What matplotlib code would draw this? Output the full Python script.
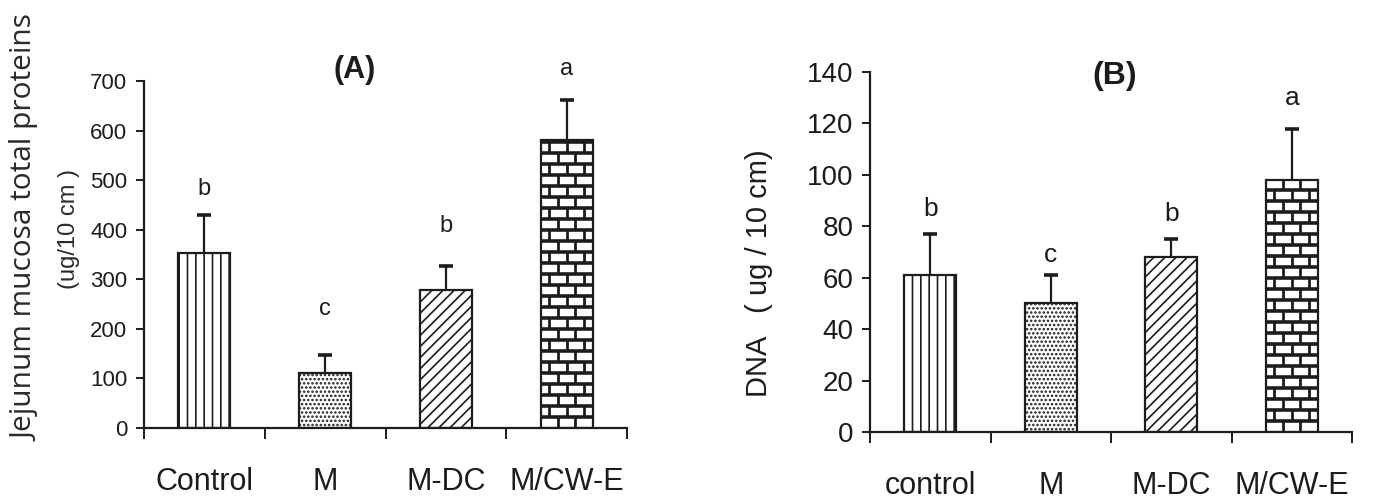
import matplotlib
matplotlib.use("Agg")
import matplotlib.pyplot as plt
import numpy as np

# Jejunum mucosa, two measures per group
groups_a = ["Control", "M", "M-DC", "M/CW-E"]
groups_b = ["control", "M", "M-DC", "M/CW-E"]

protein_mean = [353, 110, 278, 581]
protein_err = [77, 37, 49, 81]
protein_sig = ["b", "c", "b", "a"]
protein_sig_y = [470, 228, 395, 712]

dna_mean = [61, 50, 68, 98]
dna_err = [16, 11, 7, 20]
dna_sig = ["b", "c", "b", "a"]
dna_sig_y = [84, 66, 82, 127]

INK = "#1c1c1c"
HATCHES = ["||", "....", "///", "brick"]

plt.rcParams["font.family"] = ["Liberation Sans", "DejaVu Sans"]
plt.rcParams["hatch.color"] = INK
plt.rcParams["hatch.linewidth"] = 1.2
plt.rcParams["text.color"] = INK

W, H = 1391, 500
fig = plt.figure(figsize=(W / 100, H / 100), dpi=100)


def brick(ax, patch, row_px=11.0, ncols=3):
    # white bricks with dark mortar, staggered every other row
    x0, y0 = patch.get_x(), patch.get_y()
    w, h = patch.get_width(), patch.get_height()
    (_, p0), (_, p1) = ax.transData.transform([(0, 0), (0, 1)])
    row = row_px / (p1 - p0)
    ys = np.arange(y0, y0 + h + row, row)
    hl = ax.hlines(ys[1:-1], x0, x0 + w, colors=INK, lw=2.6, zorder=3)
    hl.set_clip_path(patch)
    bw = w / ncols
    xs, lo, hi = [], [], []
    for k in range(len(ys) - 1):
        off = 0.5 * bw if k % 2 else 0.0
        for j in range(ncols + 1):
            xv = x0 + off + j * bw
            if x0 < xv < x0 + w:
                xs.append(xv); lo.append(ys[k]); hi.append(ys[k + 1])
    vl = ax.vlines(xs, lo, hi, colors=INK, lw=2.0, zorder=3)
    vl.set_clip_path(patch)


def panel(rect, groups, mean, err, sig, sig_y, ymax, ystep, ytick_fs, sig_fs):
    ax = fig.add_axes(rect)
    x = np.arange(len(groups)) + 0.5
    ax.set_xlim(0, len(groups))
    ax.set_ylim(0, ymax)
    bars = ax.bar(x, mean, width=0.43, color="white", edgecolor=INK,
                  linewidth=1.6, zorder=2)
    for b, hatch in zip(bars, HATCHES):
        if hatch == "brick":
            brick(ax, b)
        else:
            b.set_hatch(hatch)
    # upper error bars only: stem from bar top plus a cap
    top = np.array(mean) + np.array(err)
    ax.vlines(x, mean, top, colors=INK, lw=1.6, zorder=4)
    ax.plot(x, top, ls="none", marker="_", ms=9.5, mew=2.6, color=INK,
            zorder=4)
    for xi, yi, s in zip(x, sig_y, sig):
        ax.text(xi, yi, s, ha="center", va="baseline", fontsize=sig_fs,
                clip_on=False)

    for side in ("top", "right"):
        ax.spines[side].set_visible(False)
    for side in ("left", "bottom"):
        ax.spines[side].set_linewidth(1.6)
        ax.spines[side].set_color(INK)

    ax.set_yticks(np.arange(0, ymax + 1, ystep))
    ax.tick_params(axis="y", length=6, width=1.4, color=INK, pad=6,
                   labelsize=ytick_fs, labelcolor=INK)
    ax.set_xticks(np.arange(len(groups) + 1))
    ax.set_xticklabels([])
    ax.tick_params(axis="x", which="major", length=8, width=1.4, color=INK)
    ax.set_xticks(x, minor=True)
    ax.set_xticklabels(groups, minor=True)
    ax.tick_params(axis="x", which="minor", length=0, pad=28,
                   labelsize=22, labelcolor=INK)
    return ax


panel([144 / W, 1 - 428 / H, 483 / W, 347 / H], groups_a, protein_mean,
      protein_err, protein_sig, protein_sig_y, 700, 100, 16, 17)
panel([870 / W, 1 - 432 / H, 482 / W, 360 / H], groups_b, dna_mean,
      dna_err, dna_sig, dna_sig_y, 140, 20, 20, 19)

fig.text(355 / W, 1 - 70 / H, "(A)", ha="center", va="center",
         fontsize=22, fontweight="bold")
fig.text(1115 / W, 1 - 76 / H, "(B)", ha="center", va="center",
         fontsize=23, fontweight="bold")

fig.text(26 / W, 1 - 228 / H, "Jejunum mucosa total proteins", rotation=90,
         ha="center", va="center", fontsize=21.5, color="#2a2a2a",
         family=["Open Sans", "DejaVu Sans"])
fig.text(69 / W, 1 - 229 / H, "(ug/10 cm )", rotation=90, ha="center",
         va="center", fontsize=17, color="#2a2a2a")
fig.text(759 / W, 1 - 273 / H, "DNA   ( ug / 10 cm)", rotation=90,
         ha="center", va="center", fontsize=21)

fig.savefig("out.png", dpi=100, facecolor="white")
